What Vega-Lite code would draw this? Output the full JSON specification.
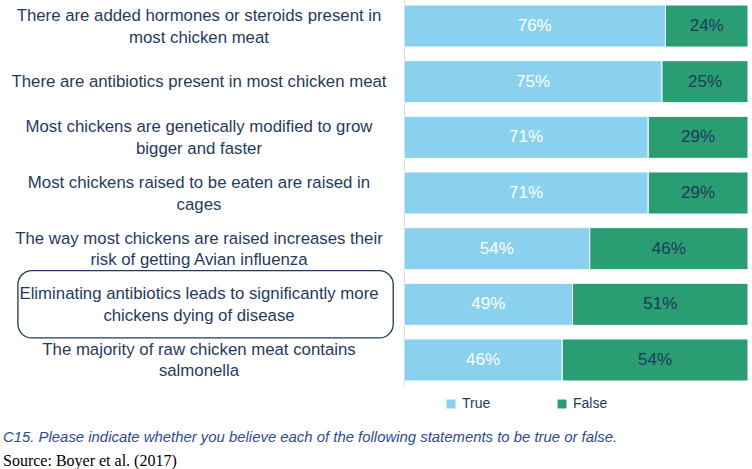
{
  "$schema": "https://vega.github.io/schema/vega-lite/v6.json",
  "background": "white",
  "padding": {"left": 0, "top": 0, "right": 5, "bottom": 0},
  "autosize": {"type": "pad"},
  "datasets": {
    "statements": [
      {"id": 1, "label": "There are added hormones or steroids present in|most chicken meat", "highlight": false},
      {"id": 2, "label": "There are antibiotics present in most chicken meat", "highlight": false},
      {"id": 3, "label": "Most chickens are genetically modified to grow|bigger and faster", "highlight": false},
      {"id": 4, "label": "Most chickens raised to be eaten are raised in|cages", "highlight": false},
      {"id": 5, "label": "The way most chickens are raised increases their|risk of getting Avian influenza", "highlight": false},
      {"id": 6, "label": "Eliminating antibiotics leads to significantly more|chickens dying of disease", "highlight": true},
      {"id": 7, "label": "The majority of raw chicken meat contains|salmonella", "highlight": false}
    ],
    "answers": [
      {"id": 1, "response": "True", "order": 1, "pct": 76},
      {"id": 1, "response": "False", "order": 2, "pct": 24},
      {"id": 2, "response": "True", "order": 1, "pct": 75},
      {"id": 2, "response": "False", "order": 2, "pct": 25},
      {"id": 3, "response": "True", "order": 1, "pct": 71},
      {"id": 3, "response": "False", "order": 2, "pct": 29},
      {"id": 4, "response": "True", "order": 1, "pct": 71},
      {"id": 4, "response": "False", "order": 2, "pct": 29},
      {"id": 5, "response": "True", "order": 1, "pct": 54},
      {"id": 5, "response": "False", "order": 2, "pct": 46},
      {"id": 6, "response": "True", "order": 1, "pct": 49},
      {"id": 6, "response": "False", "order": 2, "pct": 51},
      {"id": 7, "response": "True", "order": 1, "pct": 46},
      {"id": 7, "response": "False", "order": 2, "pct": 54}
    ]
  },
  "title": {
    "text": "C15.  Please indicate whether you believe each of the following statements to be true or false.",
    "subtitle": "Source: Boyer et al. (2017)",
    "orient": "bottom",
    "anchor": "start",
    "frame": "bounds",
    "offset": 19,
    "font": "Liberation Sans",
    "fontSize": 14.9,
    "fontStyle": "italic",
    "fontWeight": "normal",
    "color": "#2f4b8f",
    "subtitleFont": "Liberation Serif",
    "subtitleFontSize": 16,
    "subtitleColor": "#000000",
    "subtitlePadding": 8,
    "dx": 3
  },
  "config": {
    "view": {"stroke": null},
    "concat": {"spacing": 5}
  },
  "hconcat": [
    {
      "width": 398,
      "height": 386,
      "data": {"name": "statements"},
      "encoding": {
        "y": {"field": "id", "type": "ordinal", "scale": {"domain": [1, 2, 3, 4, 5, 6, 7], "paddingInner": 0.245, "paddingOuter": 0.09}, "axis": null}
      },
      "layer": [
        {
          "transform": [{"filter": "datum.highlight"}],
          "mark": {"type": "rect", "cornerRadius": 14, "fill": null, "stroke": "#1f3b5c", "strokeWidth": 1.3, "height": {"band": 1.6}},
          "encoding": {
            "x": {"datum": 0.045, "type": "quantitative", "scale": {"domain": [0, 1]}, "axis": null},
            "x2": {"datum": 0.988}
          }
        },
        {
          "transform": [{"filter": "indexof(datum.label, '|') >= 0"}],
          "mark": {"type": "text", "lineBreak": "|", "font": "Liberation Sans", "fontSize": 16.8, "lineHeight": 21.5, "color": "#1f3b5c", "align": "center", "baseline": "middle", "dy": -10},
          "encoding": {
            "x": {"datum": 0.5, "type": "quantitative", "scale": {"domain": [0, 1]}, "axis": null},
            "text": {"field": "label"}
          }
        },
        {
          "transform": [{"filter": "indexof(datum.label, '|') < 0"}],
          "mark": {"type": "text", "font": "Liberation Sans", "fontSize": 16.8, "color": "#1f3b5c", "align": "center", "baseline": "middle"},
          "encoding": {
            "x": {"datum": 0.5, "type": "quantitative", "scale": {"domain": [0, 1]}, "axis": null},
            "text": {"field": "label"}
          }
        }
      ]
    },
    {
      "width": 344,
      "height": 386,
      "data": {"name": "answers"},
      "transform": [
        {"stack": "pct", "groupby": ["id"], "sort": [{"field": "order"}], "as": ["p0", "p1"]},
        {"calculate": "(datum.p0 + datum.p1) / 2", "as": "pmid"},
        {"calculate": "datum.pct + '%'", "as": "plabel"}
      ],
      "layer": [
        {
          "mark": {"type": "bar", "stroke": "white", "strokeWidth": 1},
          "encoding": {
            "y": {"field": "id", "type": "ordinal", "scale": {"domain": [1, 2, 3, 4, 5, 6, 7], "paddingInner": 0.245, "paddingOuter": 0.09}, "axis": {"labels": false, "ticks": false, "title": null, "domainColor": "#d9d9d9", "domainWidth": 1}},
            "x": {"field": "p0", "type": "quantitative", "scale": {"domain": [0, 100], "nice": false}, "axis": null},
            "x2": {"field": "p1"},
            "color": {
              "field": "response",
              "type": "nominal",
              "scale": {"domain": ["True", "False"], "range": ["#89d1ee", "#2a9d72"]},
              "legend": {
                "title": null,
                "orient": "none",
                "legendX": 444,
                "legendY": 397,
                "direction": "horizontal",
                "symbolType": "square",
                "symbolSize": 80,
                "symbolStrokeWidth": 0,
                "labelFont": "Liberation Sans",
                "labelFontSize": 14,
                "labelColor": "#1f3b5c",
                "columnPadding": 64,
                "padding": 0
              }
            }
          }
        },
        {
          "mark": {"type": "text", "font": "Liberation Sans", "fontSize": 17, "fontWeight": "normal", "baseline": "middle", "align": "center"},
          "encoding": {
            "y": {"field": "id", "type": "ordinal"},
            "x": {"field": "pmid", "type": "quantitative"},
            "text": {"field": "plabel"},
            "color": {
              "condition": {"test": "datum.response === 'True'", "value": "#ffffff"},
              "value": "#1f3b5c"
            }
          }
        }
      ]
    }
  ]
}
